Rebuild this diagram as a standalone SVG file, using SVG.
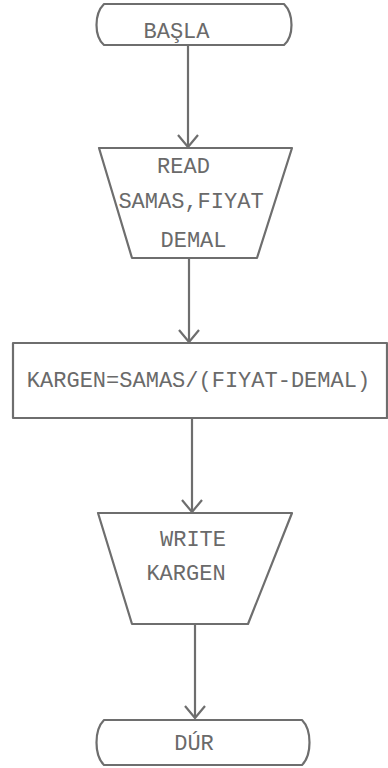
<svg xmlns="http://www.w3.org/2000/svg" width="388" height="768" viewBox="0 0 388 768">
  <defs>
    <style>
      .shape { fill: none; stroke: #6e6e6e; stroke-width: 2.2; stroke-linejoin: round; }
      .edge { fill: none; stroke: #6e6e6e; stroke-width: 2.2; }
      .lbl { font-family: "Liberation Mono", "DejaVu Sans Mono", monospace; font-size: 22px; fill: #6a6a6a; text-anchor: middle; }
    </style>
    <!-- open V arrowhead, drawn pointing along +x so orient="auto" follows the line -->
    <marker id="vhead" markerWidth="16" markerHeight="24" refX="13" refY="11" orient="auto" markerUnits="userSpaceOnUse" viewBox="0 0 16 24">
      <path d="M1,1 L13,11 L1,21" fill="none" stroke="#6e6e6e" stroke-width="2.2"/>
    </marker>
  </defs>
  <rect width="388" height="768" fill="#ffffff"/>

  <!-- connectors -->
  <g id="connectors">
    <path class="edge" d="M188,45 V147" marker-end="url(#vhead)"/>
    <path class="edge" d="M189,258 V342" marker-end="url(#vhead)"/>
    <path class="edge" d="M192,418 V512" marker-end="url(#vhead)"/>
    <path class="edge" d="M195,624 V718" marker-end="url(#vhead)"/>
  </g>

  <!-- start terminal -->
  <g id="start">
    <path class="shape" d="M104,4 H284 C294,14 294,36 284,45 H104 C94,36 94,14 104,4 Z"/>
    <text class="lbl" x="176.5" y="38">BAŞLA</text>
  </g>

  <!-- input -->
  <g id="read">
    <path class="shape" d="M99,148 H292 L257,258 H132 Z"/>
    <text class="lbl" x="183.5" y="173">READ</text>
    <text class="lbl" x="191" y="208">SAMAS,FIYAT</text>
    <text class="lbl" x="193.5" y="247">DEMAL</text>
  </g>

  <!-- process -->
  <g id="compute">
    <rect class="shape" x="13" y="343" width="374" height="75"/>
    <text class="lbl" x="198.5" y="387">KARGEN=SAMAS/(FIYAT-DEMAL)</text>
  </g>

  <!-- output -->
  <g id="write">
    <path class="shape" d="M98,513 H292 L248,624 H132 Z"/>
    <text class="lbl" x="193" y="546">WRITE</text>
    <text class="lbl" x="186" y="580">KARGEN</text>
  </g>

  <!-- stop terminal -->
  <g id="stop">
    <path class="shape" d="M104,720 H302 C312,730 312,755 302,765 H104 C94,755 94,730 104,720 Z"/>
    <text class="lbl" x="194" y="750">DÚR</text>
  </g>
</svg>
